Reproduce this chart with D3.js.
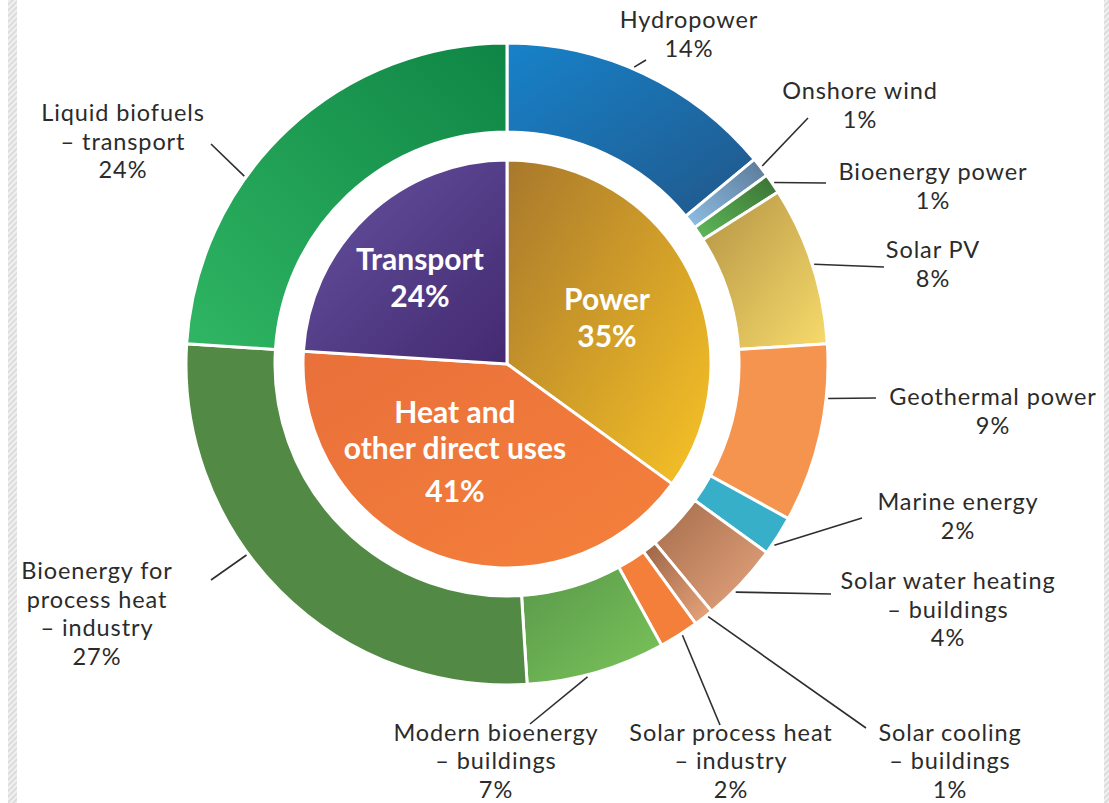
<!DOCTYPE html>
<html>
<head>
<meta charset="utf-8">
<script src="https://cdn.jsdelivr.net/npm/d3@7"></script>
<style>
  body { margin: 0; background: #fff; }
  text { font-family: Lato, "Open Sans", sans-serif; }
</style>
</head>
<body>
<div id="chart"></div>
<script>
// inner pie - sectors
var sectors = ["Power", "Heat and\nother direct uses", "Transport"];
var sectorShare = [35, 41, 24];

// outer ring - technologies (clockwise from 12 o'clock)
var techs = ["Hydropower", "Onshore wind", "Bioenergy power", "Solar PV", "Geothermal power",
  "Marine energy", "Solar water heating\n– buildings", "Solar cooling\n– buildings",
  "Solar process heat\n– industry", "Modern bioenergy\n– buildings",
  "Bioenergy for\nprocess heat\n– industry", "Liquid biofuels\n– transport"];
var techShare = [14, 1, 1, 8, 9, 2, 4, 1, 2, 7, 27, 24];

// colours: [from, to, direction]  d: 0 = top-left -> bottom-right, 1 = top-right -> bottom-left
var sectorColors = [["#a8782c", "#f8c326", 0], ["#e9703a", "#f5803a", 0], ["#6653a1", "#432970", 0]];
var techColors = [
  ["#1782c9", "#21578a", 0], ["#5a7896", "#8fbfe6", 1], ["#3a7033", "#5fba5a", 1],
  ["#b49444", "#f8db6c", 0], ["#f5944f", "#f5944f", 0], ["#37afc8", "#37afc8", 0],
  ["#a56c4c", "#e6a67e", 0], ["#9a6446", "#eca67c", 0], ["#f47f3a", "#f47f3a", 0],
  ["#58984a", "#7cc55a", 0], ["#528a45", "#528a45", 0], ["#0f8545", "#2fb663", 1]];

// label layout: x,y = centre of first text line, dy = line step, lx,ly = leader end near text,
// at = where along the slice the leader touches
var techLabelPos = [
  {x: 689, y: 20, dy: 28.5, lx: 646, ly: 60, at: 0.46},
  {x: 860, y: 91, dy: 28.5, lx: 808, ly: 118, at: 0.5},
  {x: 933, y: 172, dy: 28.5, lx: 826, ly: 183, at: 0.5},
  {x: 933, y: 250, dy: 28.5, lx: 884, ly: 267, at: 0.5},
  {x: 993, y: 397, dy: 28.5, lx: 876, ly: 398, at: 0.3},
  {x: 958, y: 502, dy: 28.5, lx: 862, ly: 518, at: 0.74},
  {x: 948, y: 581, dy: 28.5, lx: 831, ly: 594, at: 0.62},
  {x: 950, y: 733, dy: 28.2, lx: 866, ly: 728, at: 0.3},
  {x: 731, y: 733, dy: 28.2, lx: 720, ly: 725, at: 0.43},
  {x: 496, y: 733, dy: 28.2, lx: 530, ly: 724, at: 0.57},
  {x: 97, y: 571, dy: 28.5, lx: 211, ly: 580, at: 0.59},
  {x: 123, y: 113, dy: 28.5, lx: 211, ly: 144, at: 0.37}];
var sectorLabelPos = [{x: 607, ys: [299, 336]}, {x: 455, ys: [412, 448, 491]}, {x: 420, ys: [259, 296]}];

var width = 1109, height = 803;
var cx = 507, cy = 364;
var rPie = 204, rHole = 232, rOuter = 321;

var svg = d3.select("#chart").append("svg")
  .attr("width", width)
  .attr("height", height);

var defs = svg.append("defs");

// hatched side strips
var pat = defs.append("pattern")
  .attr("id", "hatch")
  .attr("patternUnits", "userSpaceOnUse")
  .attr("width", 4).attr("height", 4)
  .attr("patternTransform", "rotate(45)");
pat.append("rect").attr("width", 4).attr("height", 4).attr("fill", "#f0f0f0");
pat.append("rect").attr("width", 2).attr("height", 4).attr("fill", "#dcdcdc");

svg.append("rect").attr("x", 8).attr("y", 0).attr("width", 9).attr("height", height).attr("fill", "url(#hatch)");
svg.append("rect").attr("x", 1104).attr("y", 0).attr("width", 5).attr("height", height).attr("fill", "url(#hatch)");

function addGrad(id, c) {
  var g = defs.append("linearGradient").attr("id", id)
    .attr("x1", c[2] ? 1 : 0).attr("y1", 0)
    .attr("x2", c[2] ? 0 : 1).attr("y2", 1);
  g.append("stop").attr("offset", "0%").attr("stop-color", c[0]);
  g.append("stop").attr("offset", "100%").attr("stop-color", c[1]);
}
sectorColors.forEach(function(c, i) { addGrad("sg" + i, c); });
techColors.forEach(function(c, i) { addGrad("tg" + i, c); });

var pie = d3.pie().sort(null).value(function(d) { return d; });
var sectorArcs = pie(sectorShare);
var techArcs = pie(techShare);

var arcInner = d3.arc().innerRadius(0).outerRadius(rPie);
var arcOuter = d3.arc().innerRadius(rHole).outerRadius(rOuter);

var chart = svg.append("g").attr("transform", `translate(${cx}, ${cy})`);

chart.selectAll(".tech")
  .data(techArcs)
  .enter()
  .append("path")
  .attr("class", "tech")
  .attr("d", arcOuter)
  .attr("fill", function(d, i) { return "url(#tg" + i + ")"; })
  .attr("stroke", "#fff")
  .attr("stroke-width", 3);

chart.selectAll(".sector")
  .data(sectorArcs)
  .enter()
  .append("path")
  .attr("class", "sector")
  .attr("d", arcInner)
  .attr("fill", function(d, i) { return "url(#sg" + i + ")"; })
  .attr("stroke", "#fff")
  .attr("stroke-width", 3);

// leader lines
techArcs.forEach(function(d, i) {
  var p = techLabelPos[i];
  var a = d.startAngle + p.at * (d.endAngle - d.startAngle);
  var r = rOuter + 2;
  svg.append("line")
    .attr("x1", cx + r * Math.sin(a))
    .attr("y1", cy - r * Math.cos(a))
    .attr("x2", p.lx)
    .attr("y2", p.ly)
    .attr("stroke", "#2e2e2e")
    .attr("stroke-width", 1.6);
});

// outer labels
techArcs.forEach(function(d, i) {
  var p = techLabelPos[i];
  var lines = techs[i].split("\n").concat([d.data + "%"]);
  var t = svg.append("text")
    .attr("text-anchor", "middle")
    .attr("font-size", 23.5)
    .attr("letter-spacing", 0.9)
    .attr("fill", "#2b2b2b");
  lines.forEach(function(s, k) {
    t.append("tspan").attr("x", p.x).attr("y", p.y + k * p.dy).attr("dy", "0.35em").text(s);
  });
});

// inner labels
sectorArcs.forEach(function(d, i) {
  var p = sectorLabelPos[i];
  var lines = sectors[i].split("\n").concat([d.data + "%"]);
  var t = svg.append("text")
    .attr("text-anchor", "middle")
    .attr("font-size", 30)
    .attr("font-weight", "bold")
    .attr("fill", "#fff");
  lines.forEach(function(s, k) {
    t.append("tspan").attr("x", p.x).attr("y", p.ys[k]).attr("dy", "0.35em").text(s);
  });
});
</script>
</body>
</html>
